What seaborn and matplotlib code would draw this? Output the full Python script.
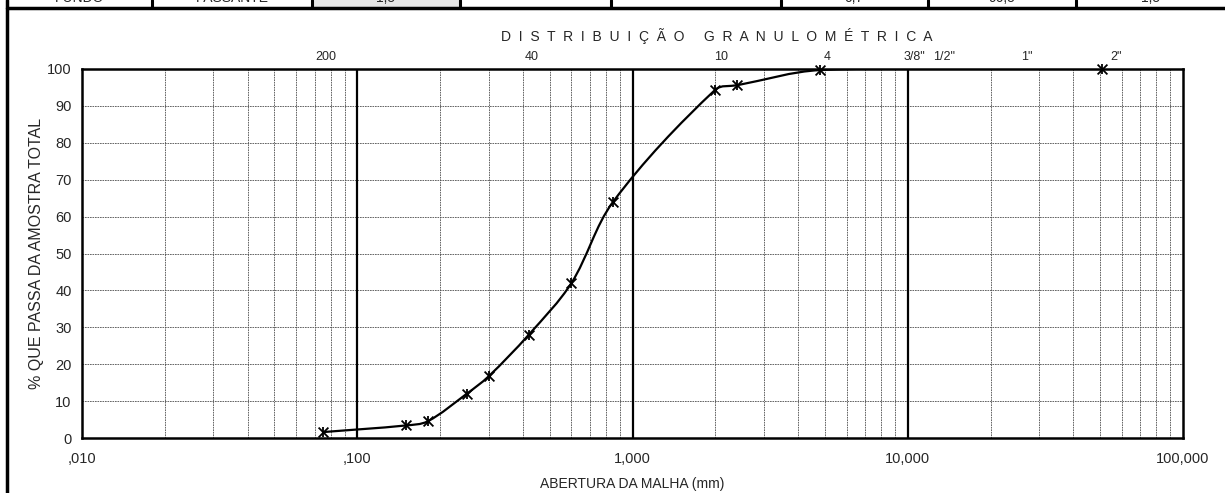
import matplotlib
matplotlib.use('Agg')  # no GUI backend
import matplotlib.pyplot as plt
from matplotlib.path import Path
from matplotlib.patches import PathPatch, Rectangle
from matplotlib.lines import Line2D
from matplotlib.ticker import FixedLocator, LogLocator, NullFormatter
import seaborn as sns
import numpy as np
import pandas as pd

# ensaio de granulometria
abertura_mm = [0.075, 0.15, 0.18, 0.25, 0.30, 0.42, 0.60, 0.85, 2.0, 2.4, 4.8, 50.8]
passante = [1.6, 3.4, 4.5, 12.0, 16.7, 28.0, 42.0, 64.0, 94.4, 95.6, 99.7, 100.0]

# peneiras escritas acima do grafico
peneira_labels = ["200", "40", "10", "4", '3/8"', '1/2"', '1"', '2"']
peneira_pos = [0.077, 0.43, 2.1, 5.1, 10.6, 13.6, 27.0, 57.0]

x_ticks = [0.01, 0.1, 1, 10, 100]
x_ticklabels = [",010", ",100", "1,000", "10,000", "100,000"]
y_ticks = list(range(0, 101, 10))

# linha da tabela cortada no topo
tabela_textos = ["FUNDO", "PASSANTE", "1,5", "", "", "0,7", "96,5", "1,5"]
tabela_bordas = [7, 152, 312, 460, 611, 781, 928, 1076, 1225]  # px

W, H = 1225, 493

sns.set_style("white")
plt.rcParams['font.family'] = ['Liberation Sans', 'DejaVu Sans']


def curva_suave(x, y, sx=275.0, sy=3.69):
    # curva suavizada: tangentes tipo Catmull-Rom em espaco de tela,
    # com o tamanho do controle limitado pelo comprimento de cada trecho
    X = np.log10(x) * sx
    Y = np.asarray(y, float) * sy
    P = np.column_stack([X, Y])
    n = len(P)
    tang = np.zeros_like(P)
    for i in range(n):
        a = P[max(i - 1, 0)]
        b = P[min(i + 1, n - 1)]
        d = b - a
        tang[i] = d / (np.hypot(*d) or 1.0)
    verts = [P[0]]
    codes = [Path.MOVETO]
    for i in range(n - 1):
        L = np.hypot(*(P[i + 1] - P[i]))
        c1 = P[i] + tang[i] * L / 3
        c2 = P[i + 1] - tang[i + 1] * L / 3
        verts += [c1, c2, P[i + 1]]
        codes += [Path.CURVE4] * 3
    verts = np.array(verts)
    verts = np.column_stack([10 ** (verts[:, 0] / sx), verts[:, 1] / sy])
    return Path(verts, codes)


fig = plt.figure(figsize=(W / 100, H / 100), dpi=100)
ax = fig.add_axes([82 / W, (H - 438) / H, (1183 - 82) / W, (438 - 69) / H])

df = pd.DataFrame({"abertura": abertura_mm, "passante": passante})

ax.set_xscale("log")
ax.set_xlim(0.01, 100)
ax.set_ylim(0, 100)

# grades
ax.xaxis.set_major_locator(FixedLocator(x_ticks))
ax.xaxis.set_minor_locator(LogLocator(base=10, subs=np.arange(2, 10)))
ax.xaxis.set_minor_formatter(NullFormatter())
ax.set_xticklabels(x_ticklabels)
ax.set_yticks(y_ticks)
ax.grid(which="minor", axis="x", color="0.3", lw=0.6, ls=(0, (2, 1)))
ax.grid(which="major", axis="y", color="0.3", lw=0.6, ls=(0, (2, 1)))
for xv in x_ticks[1:-1]:
    ax.axvline(xv, color="black", lw=1.6, zorder=2)

ax.tick_params(axis="both", which="major", labelsize=10.5, length=4, width=1,
               color="black", direction="out")
ax.tick_params(axis="x", which="minor", length=0)
ax.tick_params(axis="x", which="major", pad=6)

for s in ax.spines.values():
    s.set_color("black")
    s.set_linewidth(1.8)
    s.set_zorder(5)

# curva
ax.add_patch(PathPatch(curva_suave(abertura_mm, passante), fill=False,
                       edgecolor="black", lw=1.6, zorder=4, clip_on=True))
sns.scatterplot(data=df, x="abertura", y="passante", marker="x", s=50,
                color="black", linewidth=1.3, ax=ax, zorder=6, clip_on=False)
sns.scatterplot(data=df, x="abertura", y="passante", marker="|", s=50,
                color="black", linewidth=1.3, ax=ax, zorder=6, clip_on=False)

ax.set_xlabel("ABERTURA DA MALHA (mm)", fontsize=10, labelpad=8)
ax.set_ylabel("% QUE PASSA DA AMOSTRA TOTAL", fontsize=11.5, labelpad=2)

# numeros das peneiras
for lab, xp in zip(peneira_labels, peneira_pos):
    ax.text(xp, 101.5, lab, ha="center", va="bottom", fontsize=9)

titulo = "     ".join("  ".join(p) for p in ["DISTRIBUIÇÃO", "GRANULOMÉTRICA"])
fig.text(717 / W, 1 - 36 / H, titulo, ha="center", va="center", fontsize=10)

# tabela (cortada) e borda
fig.add_artist(Rectangle((tabela_bordas[2] / W, 1 - 7 / H),
                         (tabela_bordas[3] - tabela_bordas[2]) / W, 7 / H,
                         transform=fig.transFigure, color="#e6e6e6", lw=0))
fig.add_artist(Line2D([7 / W, 1], [1 - 7.5 / H] * 2, transform=fig.transFigure,
                      color="black", lw=2.5))
fig.add_artist(Line2D([7 / W] * 2, [0, 1], transform=fig.transFigure,
                      color="black", lw=2.5))
for xb in tabela_bordas[1:-1]:
    fig.add_artist(Line2D([xb / W] * 2, [1 - 7.5 / H, 1], transform=fig.transFigure,
                          color="black", lw=2.2))
for i, txt in enumerate(tabela_textos):
    xc = (tabela_bordas[i] + tabela_bordas[i + 1]) / 2
    fig.text(xc / W, 1 - 2.5 / H, txt, ha="center", va="baseline", fontsize=10)

fig.savefig("out.png", dpi=100, facecolor="white")
plt.close(fig)
